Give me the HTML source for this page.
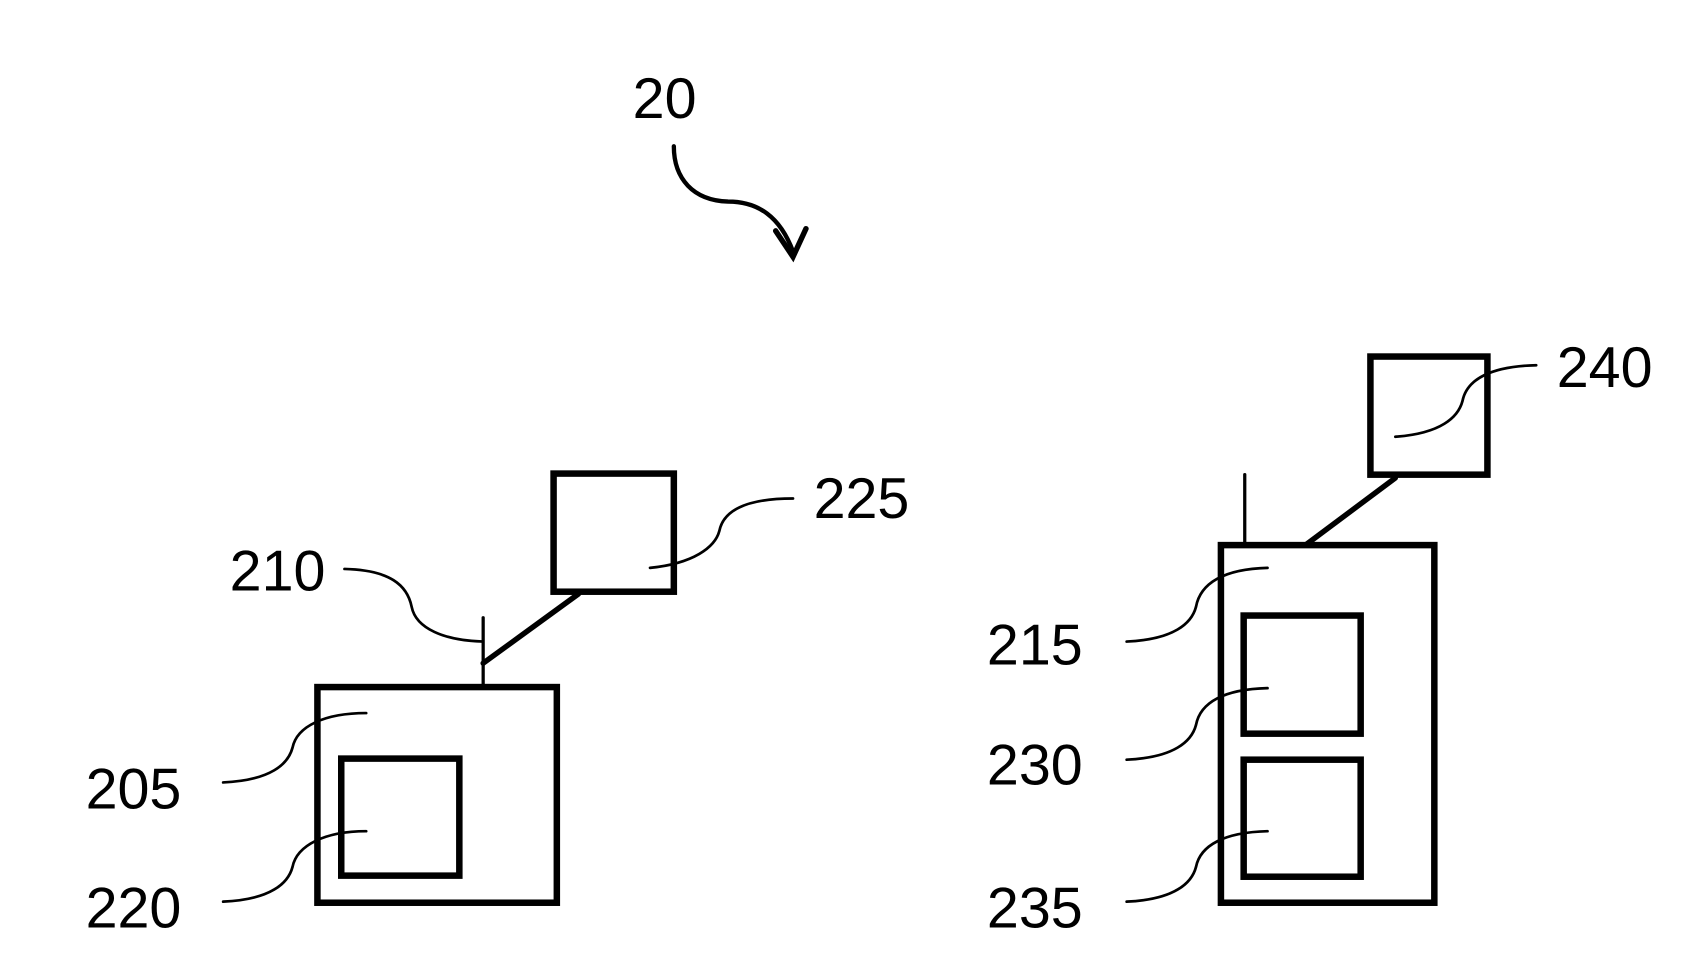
<!DOCTYPE html>
<html><head><meta charset="utf-8"><style>html,body{margin:0;padding:0;background:#fff;width:1690px;height:958px;overflow:hidden}</style></head>
<body>
<svg width="1690" height="958" viewBox="0 0 1560 884" preserveAspectRatio="none" xmlns="http://www.w3.org/2000/svg">
<g fill="none" stroke="#000" stroke-linecap="round">
<rect x="293" y="634" width="221" height="199" stroke-width="6"/>
<rect x="315" y="700" width="109" height="108" stroke-width="6"/>
<line x1="446" y1="570" x2="446" y2="634" stroke-width="3"/>
<line x1="446" y1="612" x2="534" y2="548" stroke-width="5"/>
<rect x="511" y="437" width="111" height="109" stroke-width="6"/>
<rect x="1127" y="503" width="197" height="330" stroke-width="6"/>
<rect x="1148" y="568" width="108" height="109" stroke-width="6"/>
<rect x="1148" y="701" width="108" height="108" stroke-width="6"/>
<line x1="1149" y1="438" x2="1149" y2="503" stroke-width="3"/>
<line x1="1205" y1="503" x2="1288" y2="441" stroke-width="5"/>
<rect x="1265" y="329" width="108" height="109" stroke-width="6"/>
<g stroke-width="2.5">
<path d="M600 524 C640 520 660 505 664 490 C668 470 690 460 732 460"/>
<path d="M318 525 C360 526 376 540 380 560 C384 580 410 591 446 592"/>
<path d="M206 722 C250 720 266 705 270 690 C274 670 300 658 338 658"/>
<path d="M206 832 C250 830 266 815 270 800 C274 780 300 767 338 767"/>
<path d="M1288 403 C1330 400 1346 385 1350 370 C1354 350 1376 338 1418 337"/>
<path d="M1040 592 C1084 590 1100 575 1104 560 C1108 538 1130 525 1170 524"/>
<path d="M1040 701 C1084 699 1100 684 1104 669 C1108 648 1130 636 1170 635"/>
<path d="M1040 832 C1084 830 1100 815 1104 800 C1108 780 1130 768 1170 767"/>
</g>
<path d="M622 135 C622 165 640 185 672 186 C700 186 720 200 732 232" stroke-width="4"/>
<path d="M716 213 L732 237 L744 211" stroke-width="5"/>
</g>
<g font-family="Liberation Sans, sans-serif" font-size="53" fill="#000">
<text x="584" y="109">20</text>
<text x="751" y="478">225</text>
<text x="212" y="545">210</text>
<text x="79" y="746">205</text>
<text x="79" y="856">220</text>
<text x="1437" y="357">240</text>
<text x="911" y="613">215</text>
<text x="911" y="724">230</text>
<text x="911" y="856">235</text>
</g>
</svg>
</body></html>
